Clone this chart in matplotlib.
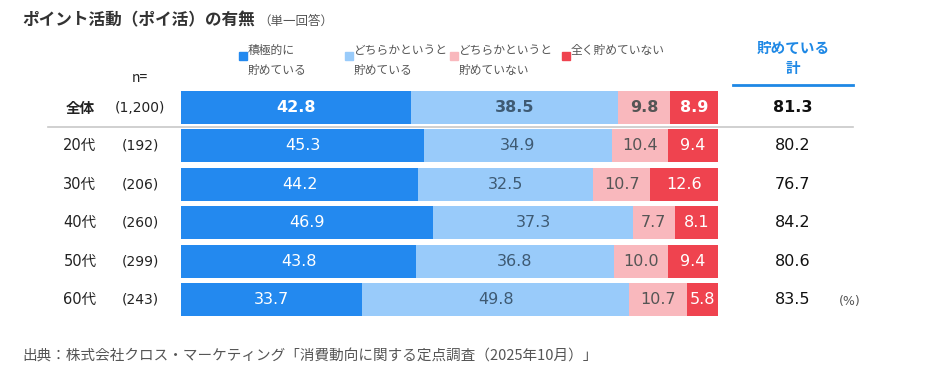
import matplotlib.pyplot as plt
import matplotlib.transforms as mtransforms
from matplotlib.lines import Line2D
from matplotlib.patches import Rectangle

plt.rcParams['font.family'] = ['Noto Sans CJK JP', 'DejaVu Sans']

groups = ['全体', '20代', '30代', '40代', '50代', '60代']
n_sizes = ['(1,200)', '(192)', '(206)', '(260)', '(299)', '(243)']
series = ['積極的に\n貯めている', 'どちらかというと\n貯めている',
          'どちらかというと\n貯めていない', '全く貯めていない']
active = [42.8, 45.3, 44.2, 46.9, 43.8, 33.7]
somewhat = [38.5, 34.9, 32.5, 37.3, 36.8, 49.8]
somewhat_not = [9.8, 10.4, 10.7, 7.7, 10.0, 10.7]
not_at_all = [8.9, 9.4, 12.6, 8.1, 9.4, 5.8]
totals = [81.3, 80.2, 76.7, 84.2, 80.6, 83.5]

colors = ['#2389ef', '#99cbfa', '#f9b8bd', '#ef434f']
text_colors = ['white', '#3e5a73', '#555555', 'white']

W, H = 934, 379
fig = plt.figure(figsize=(W / 100, H / 100), dpi=100)

def fx(px):
    return px / W

def fy(py):
    return 1 - py / H

pitch = 38.4
top = 107.5 - pitch / 2
bottom = top + pitch * 6
ax = fig.add_axes([fx(181), fy(bottom), fx(718) - fx(181), (bottom - top) / H])
ax.set_xlim(0, 100)
ax.set_ylim(5.5, -0.5)
ax.axis('off')

rows = range(len(groups))
left = [0] * len(groups)
for k, vals in enumerate([active, somewhat, somewhat_not, not_at_all]):
    ax.barh(rows, vals, left=left, height=0.86, color=colors[k], edgecolor='none')
    for i, v in enumerate(vals):
        ax.text(left[i] + v / 2, i, f'{v:.1f}', ha='center', va='center',
                fontsize=11.5, color=text_colors[k],
                fontweight='bold' if i == 0 else 'normal', family='DejaVu Sans')
    left = [a + b for a, b in zip(left, vals)]

tr = mtransforms.blended_transform_factory(fig.transFigure, ax.transData)
for i in rows:
    bold = 'bold' if i == 0 else 'normal'
    ax.text(fx(80), i, groups[i], transform=tr, ha='center', va='center',
            fontsize=10.5, fontweight=bold, color='#222222',
            family=['DejaVu Sans', 'Noto Sans CJK JP'] if i else None)
    ax.text(fx(140), i, n_sizes[i], transform=tr, ha='center', va='center',
            fontsize=10, color='#222222', family='DejaVu Sans')
    ax.text(fx(793), i, f'{totals[i]:.1f}', transform=tr, ha='center', va='center',
            fontsize=11.5, fontweight=bold, color='#111111', family='DejaVu Sans')

ax.text(fx(850), 5.05, '(%)', transform=tr, ha='center', va='center',
        fontsize=9, color='#555555', family='DejaVu Sans')

# separator below total row
ax.add_line(Line2D([fx(48), fx(853)], [0.5, 0.5], transform=tr,
                   color='#c8c8c8', lw=1.2, clip_on=False))

# title
fig.text(fx(22), fy(20), 'ポイント活動（ポイ活）の有無', ha='left', va='center',
         fontsize=12, fontweight='bold', color='#333333')
fig.text(fx(258), fy(21), '（単一回答）', ha='left', va='center',
         fontsize=9, color='#555555')

fig.text(fx(140), fy(78), 'n=', ha='center', va='center', fontsize=10, color='#222222')

# legend
leg_x = [239, 345, 450, 562]
for k, name in enumerate(series):
    fig.patches.append(Rectangle((fx(leg_x[k]), fy(60)), 8 / W, 8 / H,
                                 transform=fig.transFigure, color=colors[k]))
    fig.text(fx(leg_x[k] + 9), fy(44), name, ha='left', va='top',
             fontsize=8.5, color='#555555', linespacing=1.7)

# total header
fig.text(fx(793), fy(58), '貯めている\n計', ha='center', va='center',
         fontsize=10.5, fontweight='bold', color='#1e88e5', linespacing=1.3)
fig.add_artist(Line2D([fx(733), fx(853)], [fy(85), fy(85)], color='#1e88e5', lw=2))

fig.text(fx(22), fy(357), '出典：株式会社クロス・マーケティング「消費動向に関する定点調査（2025年10月）」',
         ha='left', va='center', fontsize=10.5, color='#555555')

fig.savefig('out.png', dpi=100, facecolor='white')
